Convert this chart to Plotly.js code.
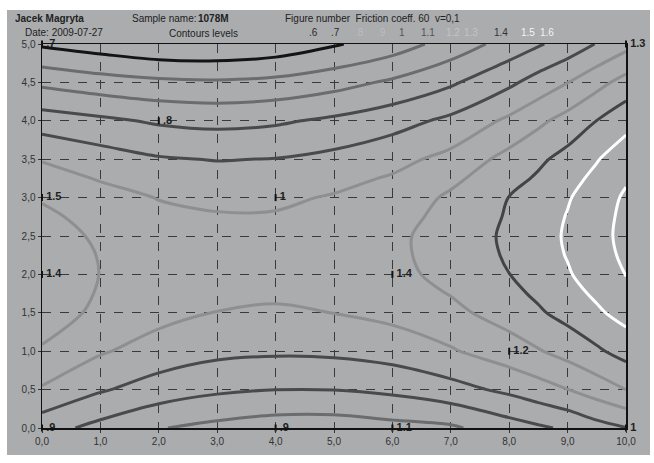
<!DOCTYPE html>
<html>
<head>
<meta charset="utf-8">
<script src="https://cdn.plot.ly/plotly-3.0.1.min.js"></script>
<style>
html,body{margin:0;padding:0;background:#fff;}
#chart{width:654px;height:463px;}
</style>
</head>
<body>
<div id="chart"></div>
<script>
// ---- data ----
const xGrid = [0, 1, 2, 3, 4, 5, 6, 7, 8, 8.5, 9, 9.5, 10];
const yGrid = [0, 0.5, 1, 1.5, 1.75, 2, 2.25, 2.5, 2.75, 3, 3.25, 3.5, 4, 4.5, 5];
// friction coefficient estimated at grid nodes (rows = y, columns = x)
const zRow000 = [1.04, 0.97, 0.905, 0.873, 0.849, 0.847, 0.868, 0.885, 0.955, 0.985, 1.015, 1.062, 1.097];
const zRow050 = [1.19, 1.11, 1.055, 1.017, 1.001, 1.002, 1.022, 1.065, 1.122, 1.159, 1.198, 1.248, 1.301];
const zRow100 = [1.29, 1.21, 1.158, 1.125, 1.115, 1.12, 1.143, 1.19, 1.255, 1.293, 1.336, 1.385, 1.437];
const zRow150 = [1.348, 1.279, 1.23, 1.198, 1.19, 1.201, 1.227, 1.275, 1.343, 1.387, 1.433, 1.484, 1.537];
const zRow175 = [1.36, 1.292, 1.246, 1.218, 1.211, 1.223, 1.253, 1.304, 1.374, 1.417, 1.465, 1.517, 1.574];
const zRow200 = [1.367, 1.298, 1.258, 1.233, 1.227, 1.241, 1.274, 1.327, 1.399, 1.443, 1.491, 1.545, 1.603];
const zRow225 = [1.361, 1.295, 1.256, 1.233, 1.23, 1.246, 1.281, 1.336, 1.412, 1.457, 1.505, 1.56, 1.619];
const zRow250 = [1.348, 1.283, 1.247, 1.226, 1.225, 1.243, 1.281, 1.338, 1.418, 1.462, 1.511, 1.567, 1.627];
const zRow275 = [1.322, 1.264, 1.225, 1.207, 1.208, 1.228, 1.265, 1.329, 1.41, 1.454, 1.505, 1.562, 1.623];
const zRow300 = [1.29, 1.24, 1.196, 1.181, 1.183, 1.208, 1.24, 1.316, 1.402, 1.441, 1.492, 1.55, 1.614];
const zRow325 = [1.244, 1.192, 1.156, 1.141, 1.146, 1.171, 1.21, 1.277, 1.366, 1.413, 1.466, 1.524, 1.588];
const zRow350 = [1.193, 1.145, 1.109, 1.096, 1.103, 1.128, 1.168, 1.23, 1.333, 1.381, 1.434, 1.494, 1.556];
const zRow400 = [1.05, 1.02, 0.987, 0.973, 0.986, 1.018, 1.062, 1.122, 1.22, 1.279, 1.336, 1.401, 1.467];
const zRow450 = [0.878, 0.843, 0.82, 0.813, 0.827, 0.863, 0.916, 0.985, 1.08, 1.14, 1.198, 1.267, 1.337];
const zRow500 = [0.685, 0.65, 0.617, 0.613, 0.634, 0.69, 0.75, 0.84, 0.94, 0.99, 1.04, 1.105, 1.167];

// measured points with their labels
const ptX = [0, 2, 4, 0, 0, 6, 8, 0, 4, 6, 10, 10];
const ptY = [5, 4, 3, 3, 2, 2, 1, 0, 0, 0, 0, 5];
const ptLabel = ['.7', '.8', '1', '1.5', '1.4', '1.4', '1.2', '.9', '.9', '1.1', '1', '1.3'];

// contour levels legend
const levelLabels = ['.6', '.7', '.8', '.9', '1', '1.1', '1.2', '1.3', '1.4', '1.5', '1.6'];

// tick labels
const xTickVals = [0, 1, 2, 3, 4, 5, 6, 7, 8, 9, 10];
const xTickText = ['0,0', '1,0', '2,0', '3,0', '4,0', '5,0', '6,0', '7,0', '8,0', '9,0', '10,0'];
const yTickVals = [0, 0.5, 1, 1.5, 2, 2.5, 3, 3.5, 4, 4.5, 5];
const yTickText = ['0,0', '0,5', '1,0', '1,5', '2,0', '2,5', '3,0', '3,5', '4,0', '4,5', '5,0'];

// ---- styling ----
const levelColors = ['#141414', '#141414', '#6c6c6c', '#6c6c6c', '#4a4a4a', '#4a4a4a',
                     '#8f8f8f', '#8f8f8f', '#444444', '#ffffff', '#ffffff'];
const legendColors = ['#2a2a2a', '#2a2a2a', '#bdbdbd', '#bdbdbd', '#555555', '#555555',
                      '#c4c4c4', '#c4c4c4', '#333333', '#f4f4f4', '#f4f4f4'];
const legendX = [313, 335, 359, 381, 402, 428, 453, 471, 501, 528, 547];

const zGrid = [zRow000, zRow050, zRow100, zRow150, zRow175, zRow200, zRow225, zRow250,
               zRow275, zRow300, zRow325, zRow350, zRow400, zRow450, zRow500];

const cscale = [];
levelColors.forEach((c, i) => {
  const p = i / (levelColors.length - 1);
  const a = Math.max(0, p - 0.03), b = Math.min(1, p + 0.03);
  cscale.push([a, c]);
  cscale.push([b, c]);
});

const L = 42, R = 28, T = 44, B = 35, W = 654, H = 463;
const pw = W - L - R, ph = H - T - B;
const px = v => (v - L) / pw;
const py = v => (H - B - v) / ph;

const bg = '#aaacae';
const FONT = 'Liberation Sans, Arial, sans-serif';

const contour = {
  type: 'contour',
  x: xGrid, y: yGrid, z: zGrid,
  autocontour: false,
  contours: {start: 0.6, end: 1.6, size: 0.1, coloring: 'lines', showlabels: false},
  colorscale: cscale,
  showscale: false,
  line: {width: 3, smoothing: 1},
  hoverinfo: 'skip'
};

const points = {
  type: 'scatter', mode: 'markers+text',
  x: ptX, y: ptY, text: ptLabel,
  textposition: 'middle right',
  textfont: {family: FONT, size: 11, color: '#1e1e1e', weight: 'bold'},
  marker: {symbol: 'line-ns', size: 5, line: {width: 2, color: '#111'}, color: '#111'},
  cliponaxis: false,
  hoverinfo: 'skip'
};

const ann = [
  {text: '<b>Jacek Magryta</b>', x: px(13), y: py(19)},
  {text: 'Date: 2009-07-27', x: px(23), y: py(32)},
  {text: 'Sample name:', x: px(130), y: py(19)},
  {text: '<b>1078M</b>', x: px(196), y: py(19)},
  {text: 'Contours levels', x: px(167), y: py(33)},
  {text: 'Figure number  Friction coeff. 60  v=0,1', x: px(283), y: py(19)}
].map(a => Object.assign({xref: 'paper', yref: 'paper', xanchor: 'left', yanchor: 'middle',
  showarrow: false, font: {family: FONT, size: 10, color: '#222'}}, a));

levelLabels.forEach((t, i) => {
  ann.push({text: t, x: px(legendX[i]), y: py(32), xref: 'paper', yref: 'paper',
    xanchor: 'center', yanchor: 'middle', showarrow: false,
    font: {family: FONT, size: 10, color: legendColors[i]}});
});

const axisCommon = {
  showgrid: true, gridcolor: '#3a3a3a', gridwidth: 1, griddash: 'dash',
  zeroline: false, showline: true, linecolor: '#111', linewidth: 1.5, mirror: true,
  ticks: 'outside', ticklen: 3, tickcolor: '#333',
  tickfont: {family: FONT, size: 10, color: '#333'}
};

const layout = {
  width: W, height: H,
  margin: {l: L, r: R, t: T, b: B, pad: 0},
  paper_bgcolor: '#ffffff',
  plot_bgcolor: bg,
  showlegend: false,
  xaxis: Object.assign({}, axisCommon, {range: [0, 10], tickvals: xTickVals, ticktext: xTickText}),
  yaxis: Object.assign({}, axisCommon, {range: [0, 5], tickvals: yTickVals, ticktext: yTickText}),
  shapes: [{type: 'rect', xref: 'paper', yref: 'paper', layer: 'below',
    x0: px(7), x1: px(650), y0: py(455), y1: py(10),
    fillcolor: bg, line: {width: 0}}],
  annotations: ann
};

Plotly.newPlot('chart', [contour, points], layout, {displayModeBar: false, staticPlot: true});
</script>
</body>
</html>
